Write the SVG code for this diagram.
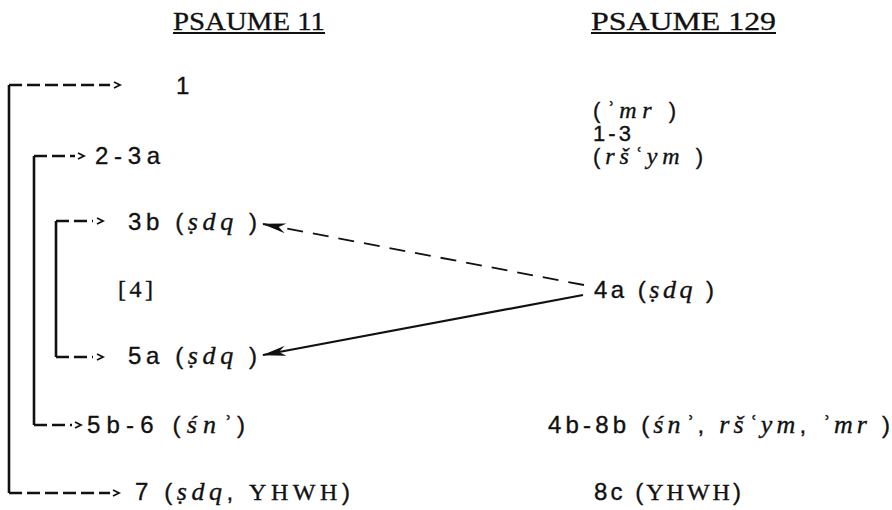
<svg xmlns="http://www.w3.org/2000/svg" width="892" height="510" viewBox="0 0 892 510">
<style>
  text { font-family: "Liberation Sans", "DejaVu Sans", sans-serif; font-size: 24px; fill: #111; stroke: #111; stroke-width: 0.35; }
  .title { font-family: "Liberation Serif", serif; font-size: 25px; stroke-width: 0.3; }
  .it { font-family: "Liberation Serif", serif; font-style: italic; font-size: 26px; }
  .serif { font-family: "Liberation Serif", serif; }
  .small { font-size: 22px; }
  .small .it { font-size: 24px; }
  .uline { stroke: #111; stroke-width: 2; }
  .bracket { fill: none; stroke: #111; stroke-width: 2.6; }
  .dash { fill: none; stroke: #111; stroke-width: 2.6; stroke-dasharray: 13 5; }
  .chev { fill: none; stroke: #111; stroke-width: 1.8; }
  .link { fill: none; stroke: #111; stroke-width: 2.2; }
  .linkdash { fill: none; stroke: #111; stroke-width: 1.8; stroke-dasharray: 16 10; }
</style>
<defs>
  <marker id="ah" viewBox="0 0 24 10" refX="23" refY="5" markerWidth="24" markerHeight="10" markerUnits="userSpaceOnUse" orient="auto">
    <path d="M0,0 L24,5 L0,10 L7,5 z" fill="#111"/>
  </marker>
</defs>

<g id="headers">
  <text class="title" x="173" y="30" textLength="152" lengthAdjust="spacingAndGlyphs">PSAUME 11</text>
  <line class="uline" x1="173" y1="33" x2="325" y2="33"/>
  <text class="title" x="591" y="30" textLength="185" lengthAdjust="spacingAndGlyphs">PSAUME 129</text>
  <line class="uline" x1="591" y1="33" x2="776" y2="33"/>
</g>

<g id="connectors">
  <!-- outer bracket 1 -> 7 -->
  <path class="bracket" d="M9,85 V493"/>
  <path class="dash" d="M9,85 H110"/>
  <path class="dash" d="M9,493 H110"/>
  <path class="chev" d="M114,82 L120,85 L114,88"/>
  <path class="chev" d="M113,490 L119,493 L113,496"/>
  <!-- bracket 2-3a -> 5b-6 -->
  <path class="bracket" d="M34,156 V425"/>
  <path class="dash" d="M34,156 H75"/>
  <path class="dash" d="M34,425 H72"/>
  <path class="chev" d="M78,153 L84,156 L78,159"/>
  <path class="chev" d="M75,422 L81,425 L75,428"/>
  <!-- bracket 3b -> 5a -->
  <path class="bracket" d="M56,221 V357"/>
  <path class="dash" d="M56,221 H93"/>
  <path class="dash" d="M56,357 H93"/>
  <path class="chev" d="M97,218 L103,221 L97,224"/>
  <path class="chev" d="M97,354 L103,357 L97,360"/>
  <!-- 4a -> 3b (dashed) and 4a -> 5a (solid) -->
  <path class="linkdash" d="M584,285 L263,224" marker-end="url(#ah)"/>
  <path class="link" d="M583,295 L263,355" marker-end="url(#ah)"/>
</g>

<g id="n-1"><text x="176" y="94">1</text></g>
<g id="n-2-3a"><text x="95" y="164" textLength="65">2-3a</text></g>
<g id="n-3b"><text x="128" y="230" textLength="129">3b (<tspan class="it">ṣdq</tspan> )</text></g>
<g id="n-4"><text x="118" y="297" textLength="35" class="serif">[4]</text></g>
<g id="n-5a"><text x="128" y="364" textLength="129">5a (<tspan class="it">ṣdq</tspan> )</text></g>
<g id="n-5b-6"><text x="87" y="433" textLength="158">5b-6 (<tspan class="it">śnʾ</tspan>)</text></g>
<g id="n-7"><text x="135" y="500" textLength="215">7  (<tspan class="it">ṣdq</tspan>, <tspan class="serif">YHWH</tspan>)</text></g>

<g id="p129-1"><text class="small" x="593" y="118" textLength="83">(<tspan class="it">ʾmr</tspan> )</text></g>
<g id="p129-1-3"><text class="small" x="593" y="141" textLength="38">1-3</text></g>
<g id="p129-rsym"><text class="small" x="593" y="164" textLength="110">(<tspan class="it">ršʿym</tspan> )</text></g>
<g id="p129-4a"><text x="594" y="298" textLength="120">4a (<tspan class="it">ṣdq</tspan> )</text></g>
<g id="p129-4b-8b"><text x="548" y="433" textLength="342">4b-8b (<tspan class="it">śnʾ</tspan>, <tspan class="it">ršʿym</tspan>, <tspan class="it">ʾmr</tspan> )</text></g>
<g id="p129-8c"><text x="594" y="500" textLength="147">8c (<tspan class="serif">YHWH</tspan>)</text></g>
</svg>
